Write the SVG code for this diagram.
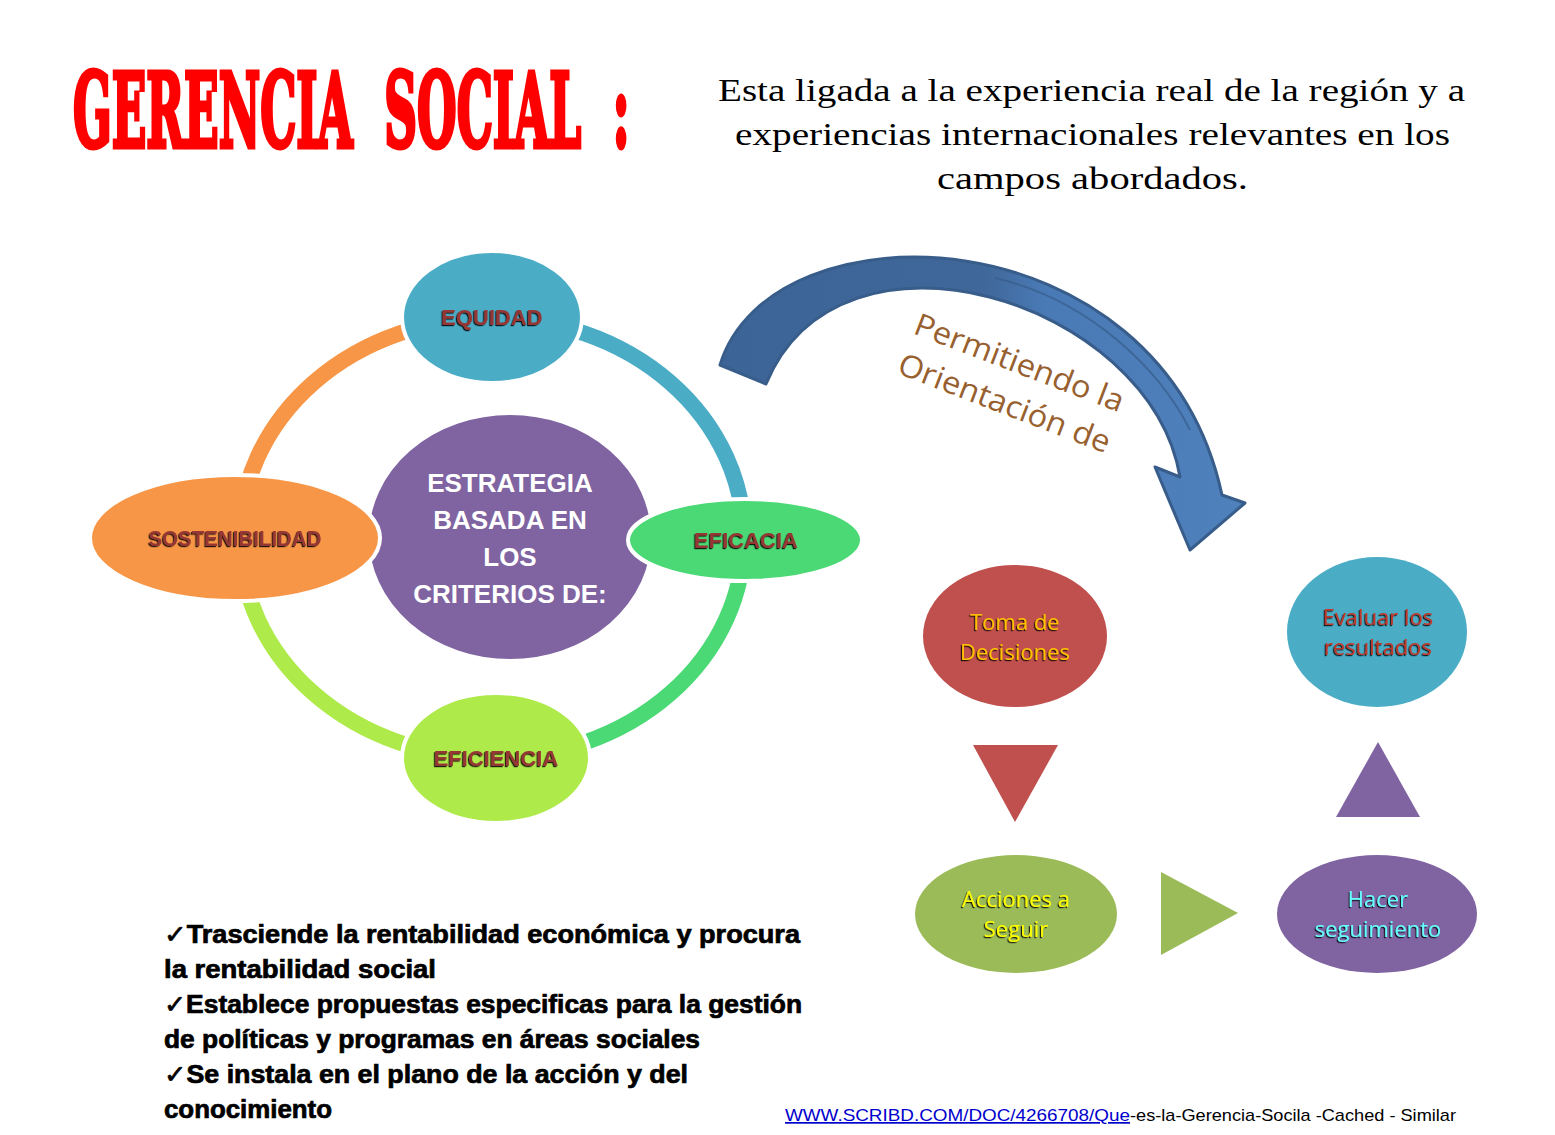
<svg xmlns="http://www.w3.org/2000/svg" width="1555" height="1135" viewBox="0 0 1555 1135">
<style>
.lbl{font-family:"Liberation Sans",Arial,sans-serif;font-weight:bold;font-size:22px;fill:#953735;text-anchor:middle;filter:url(#sh)}
.flow{font-family:"Open Sans","Liberation Sans",sans-serif;font-size:22px;text-anchor:middle;filter:url(#sh)}
.bul{font-family:"Liberation Sans","DejaVu Sans",sans-serif;font-weight:bold;font-size:25px;fill:#000;stroke:#000;stroke-width:0.7}
.sub{font-family:"Liberation Serif",serif;font-size:31px;fill:#000}
.node{stroke:#fff;stroke-width:4}
.ring{fill:none;stroke-width:16}
</style>
<defs>
<filter id="sh" x="-10%" y="-30%" width="120%" height="160%">
<feDropShadow dx="-1.2" dy="1.2" stdDeviation="0.3" flood-color="#000" flood-opacity="0.85"/>
</filter>
<linearGradient id="ag" x1="0" y1="0" x2="1" y2="0">
<stop offset="0" stop-color="#3D6496"/>
<stop offset="0.5" stop-color="#3F6799"/>
<stop offset="0.62" stop-color="#4A7AB6"/>
<stop offset="1" stop-color="#4F81BD"/>
</linearGradient>
</defs>
<rect width="1555" height="1135" fill="#fff"/>

<g id="title">
<text transform="translate(73,147) scale(0.445,1)" x="0" y="0" font-family="DejaVu Serif,Liberation Serif,serif" font-weight="bold" font-size="102" fill="#FF0000" stroke="#FF0000" stroke-width="5" stroke-linejoin="miter" xml:space="preserve">GERENCIA  SOCIAL  :</text>
</g>
<g id="subtitle">
<text class="sub" x="718" y="101" textLength="747" lengthAdjust="spacingAndGlyphs">Esta ligada a la experiencia real de la región y a</text>
<text class="sub" x="735" y="145" textLength="715" lengthAdjust="spacingAndGlyphs">experiencias internacionales relevantes en los</text>
<text class="sub" x="937" y="189" textLength="311" lengthAdjust="spacingAndGlyphs">campos abordados.</text>
</g>

<g id="connectors">
<path class="ring" stroke="#F79646" d="M240,538 A252,220 0 0 1 492,318"/>
<path class="ring" stroke="#4BACC6" d="M492,318 A252,220 0 0 1 744,538"/>
<path class="ring" stroke="#4AD974" d="M744,538 A252,220 0 0 1 492,758"/>
<path class="ring" stroke="#AEEA4A" d="M492,758 A252,220 0 0 1 240,538"/>
<path id="bigarrow" fill="url(#ag)" stroke="#385D8A" stroke-width="3" stroke-linejoin="round" d="M720,365 C770,200 1160,210 1222,495 L1245,503 L1190,550 L1155,467 L1180,477 C1150,300 840,205 766,384 Z"/>
<path d="M995,278 C1090,300 1160,370 1190,430" fill="none" stroke="#385D8A" stroke-width="2" opacity="0.7"/>
<polygon fill="#C0504D" points="973,745 1058,745 1015,822"/>
<polygon fill="#8064A2" points="1336,817 1420,817 1378,742"/>
<polygon fill="#9BBB59" points="1161,872 1238,913 1161,955"/>
</g>

<g id="center">
<ellipse class="node" cx="510" cy="537" rx="143" ry="124" fill="#8064A2"/>
<g font-family="Liberation Sans,Arial,sans-serif" font-weight="bold" font-size="26" fill="#fff" text-anchor="middle">
<text x="510" y="492">ESTRATEGIA</text>
<text x="510" y="529">BASADA EN</text>
<text x="510" y="566">LOS</text>
<text x="510" y="603">CRITERIOS DE:</text>
</g>
</g>
<g id="equidad">
<ellipse class="node" cx="492" cy="317" rx="90" ry="66" fill="#4BACC6"/>
<text class="lbl" x="492" y="325">EQUIDAD</text>
</g>
<g id="sostenibilidad">
<ellipse class="node" cx="235" cy="538" rx="145" ry="63" fill="#F79646"/>
<text class="lbl" x="235" y="546" textLength="173" lengthAdjust="spacingAndGlyphs">SOSTENIBILIDAD</text>
</g>
<g id="eficacia">
<ellipse class="node" cx="745" cy="540" rx="117" ry="41" fill="#4AD974"/>
<text class="lbl" x="746" y="548">EFICACIA</text>
</g>
<g id="eficiencia">
<ellipse class="node" cx="496" cy="758" rx="94" ry="65" fill="#AEEA4A"/>
<text class="lbl" x="496" y="766">EFICIENCIA</text>
</g>

<g id="orientacion">
<g transform="translate(912,333) rotate(21)" font-family="Open Sans,Liberation Sans,sans-serif" font-size="31" fill="#97602E">
<text x="0" y="0" textLength="222" lengthAdjust="spacingAndGlyphs">Permitiendo la</text>
<text x="-1" y="43" textLength="225" lengthAdjust="spacingAndGlyphs">Orientación de</text>
</g>
</g>

<g id="toma">
<ellipse cx="1015" cy="636" rx="92" ry="71" fill="#C0504D"/>
<text class="flow" fill="#FFC000" x="1015" y="630">Toma de</text>
<text class="flow" fill="#FFC000" x="1015" y="660">Decisiones</text>
</g>
<g id="evaluar">
<ellipse cx="1377" cy="632" rx="90" ry="75" fill="#4BACC6"/>
<text class="flow" fill="#C0392B" x="1378" y="625">Evaluar los</text>
<text class="flow" fill="#C0392B" x="1378" y="655">resultados</text>
</g>
<g id="acciones">
<ellipse cx="1016" cy="914" rx="101" ry="59" fill="#9BBB59"/>
<text class="flow" fill="#FFFF00" x="1016" y="907">Acciones a</text>
<text class="flow" fill="#FFFF00" x="1016" y="937">Seguir</text>
</g>
<g id="hacer">
<ellipse cx="1377" cy="914" rx="100" ry="59" fill="#8064A2"/>
<text class="flow" fill="#66FFFF" x="1378" y="907">Hacer</text>
<text class="flow" fill="#66FFFF" x="1378" y="937">seguimiento</text>
</g>

<g id="bullets">
<text class="bul" x="164" y="943" textLength="636" lengthAdjust="spacingAndGlyphs">✓Trasciende la rentabilidad económica y procura</text>
<text class="bul" x="164" y="978" textLength="272" lengthAdjust="spacingAndGlyphs">la rentabilidad social</text>
<text class="bul" x="164" y="1013" textLength="638" lengthAdjust="spacingAndGlyphs">✓Establece propuestas especificas para la gestión</text>
<text class="bul" x="164" y="1048" textLength="536" lengthAdjust="spacingAndGlyphs">de políticas y programas en áreas sociales</text>
<text class="bul" x="164" y="1083" textLength="524" lengthAdjust="spacingAndGlyphs">✓Se instala en el plano de la acción y del</text>
<text class="bul" x="164" y="1118" textLength="168" lengthAdjust="spacingAndGlyphs">conocimiento</text>
</g>

<g id="footer" font-family="Liberation Sans,Arial,sans-serif" font-size="17">
<text x="785" y="1121" fill="#0000CC" text-decoration="underline" textLength="345" lengthAdjust="spacingAndGlyphs">WWW.SCRIBD.COM/DOC/4266708/Que</text>
<text x="1130" y="1121" fill="#000" textLength="326" lengthAdjust="spacingAndGlyphs">-es-la-Gerencia-Socila -Cached - Similar</text>
</g>
</svg>
